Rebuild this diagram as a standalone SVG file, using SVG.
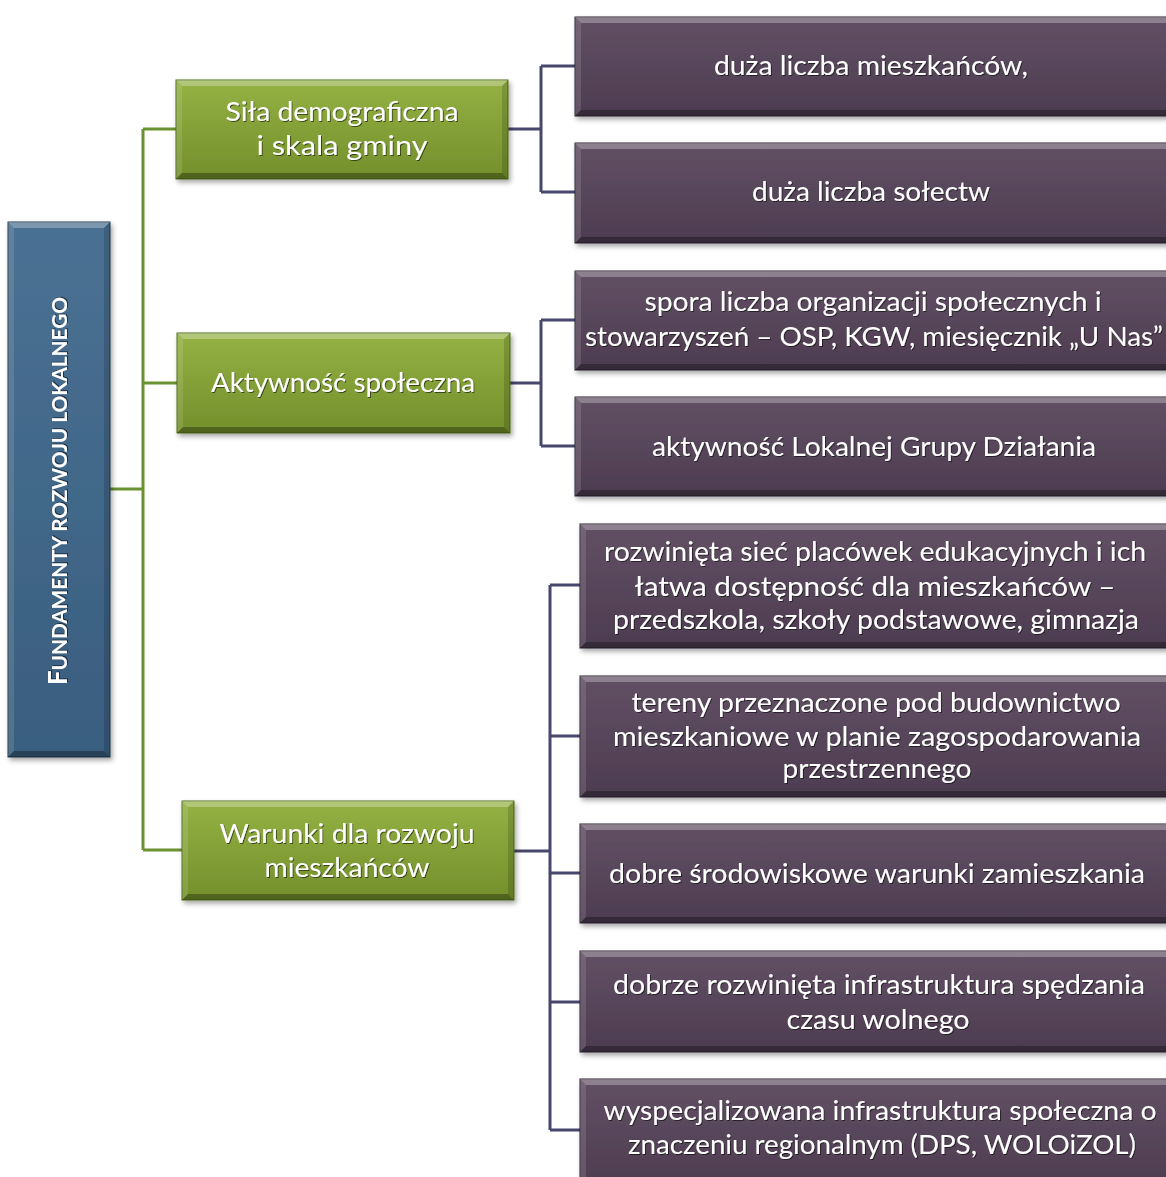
<svg xmlns="http://www.w3.org/2000/svg" width="1166" height="1177" viewBox="0 0 1166 1177">
<defs>
<linearGradient id="gBlue" x1="0" y1="0" x2="0" y2="1"><stop offset="0" stop-color="#4a7193"/><stop offset="1" stop-color="#395e7f"/></linearGradient>
<linearGradient id="gGreen" x1="0" y1="0" x2="0" y2="1"><stop offset="0" stop-color="#94b244"/><stop offset="1" stop-color="#738f2b"/></linearGradient>
<linearGradient id="gPurple" x1="0" y1="0" x2="0" y2="1"><stop offset="0" stop-color="#625065"/><stop offset="1" stop-color="#4d3c50"/></linearGradient>
<filter id="sh" x="-10%" y="-10%" width="130%" height="130%"><feDropShadow dx="2" dy="3" stdDeviation="2.5" flood-color="#000" flood-opacity="0.35"/></filter>
<filter id="tsh" x="-5%" y="-20%" width="110%" height="150%"><feDropShadow dx="1" dy="1" stdDeviation="0.7" flood-color="#000" flood-opacity="0.55"/></filter>
</defs>
<style>
.box{stroke:#2a2230;stroke-width:1;filter:url(#sh)}
.blue{fill:url(#gBlue);stroke:#22374a}
.green{fill:url(#gGreen);stroke:#4f6a1c}
.purple{fill:url(#gPurple);stroke:#2b2130}
.bt{fill:#fff;fill-opacity:.28}
.bl{fill:#fff;fill-opacity:.12}
.br{fill:#000;fill-opacity:.15}
.bb{fill:#000;fill-opacity:.3}
.t{font-family:Lato,"Open Sans","Liberation Sans",sans-serif;font-size:26.5px;fill:#fff;text-anchor:middle;filter:url(#tsh)}
.tv{font-family:Lato,"Liberation Sans",sans-serif;font-weight:bold;font-size:21px;fill:#fff;text-anchor:middle;filter:url(#tsh)}
.cg{fill:none;stroke:#6b9130;stroke-width:3}
.cp{fill:none;stroke:#48476d;stroke-width:3}
</style>
<rect width="1166" height="1177" fill="#fff"/>
<g id="connectors">
<path class="cg" d="M110,489H143M143,129V850M143,129H176M143,383H177M143,850H182"/>
<path class="cp" d="M508,129H541M541,66V192M541,66H575M541,192H575"/>
<path class="cp" d="M510,383H541M541,320V446M541,320H575M541,446H575"/>
<path class="cp" d="M514,851H550M550,585V1130M550,585H580M550,736H580M550,873H580M550,1002H580M550,1130H580"/>
</g>
<g id="root">
<rect class="box blue" x="8" y="222" width="102" height="535"/>
<polygon class="bt" points="8,222 110,222 104,228 14,228"/>
<polygon class="bl" points="8,222 14,228 14,751 8,757"/>
<polygon class="br" points="110,222 110,757 104,751 104,228"/>
<polygon class="bb" points="8,757 14,751 104,751 110,757"/>
<text class="tv" transform="translate(67,491) rotate(-90)" textLength="388" lengthAdjust="spacingAndGlyphs"><tspan font-size="26">F</tspan>UNDAMENTY ROZWOJU LOKALNEGO</text>
</g>
<g id="g1">
<rect class="box green" x="176" y="80" width="332" height="99"/>
<polygon class="bt" points="176,80 508,80 502,86 182,86"/>
<polygon class="bl" points="176,80 182,86 182,173 176,179"/>
<polygon class="br" points="508,80 508,179 502,173 502,86"/>
<polygon class="bb" points="176,179 182,173 502,173 508,179"/>
<text class="t" x="342" y="121" textLength="233" lengthAdjust="spacingAndGlyphs">Siła demograficzna</text>
<text class="t" x="342" y="155" textLength="171" lengthAdjust="spacingAndGlyphs">i skala gminy</text>
</g>
<g id="g2">
<rect class="box green" x="177" y="333" width="333" height="100"/>
<polygon class="bt" points="177,333 510,333 504,339 183,339"/>
<polygon class="bl" points="177,333 183,339 183,427 177,433"/>
<polygon class="br" points="510,333 510,433 504,427 504,339"/>
<polygon class="bb" points="177,433 183,427 504,427 510,433"/>
<text class="t" x="343" y="392" textLength="264" lengthAdjust="spacingAndGlyphs">Aktywność społeczna</text>
</g>
<g id="g3">
<rect class="box green" x="182" y="801" width="332" height="99"/>
<polygon class="bt" points="182,801 514,801 508,807 188,807"/>
<polygon class="bl" points="182,801 188,807 188,894 182,900"/>
<polygon class="br" points="514,801 514,900 508,894 508,807"/>
<polygon class="bb" points="182,900 188,894 508,894 514,900"/>
<text class="t" x="347" y="843" textLength="255" lengthAdjust="spacingAndGlyphs">Warunki dla rozwoju</text>
<text class="t" x="347" y="877" textLength="165" lengthAdjust="spacingAndGlyphs">mieszkańców</text>
</g>
<g id="p1">
<rect class="box purple" x="575" y="17" width="600" height="99"/>
<polygon class="bt" points="575,17 1175,17 1169,23 581,23"/>
<polygon class="bl" points="575,17 581,23 581,110 575,116"/>
<polygon class="bb" points="575,116 581,110 1169,110 1175,116"/>
<text class="t" x="871" y="75" textLength="314" lengthAdjust="spacingAndGlyphs">duża liczba mieszkańców,</text>
</g>
<g id="p2">
<rect class="box purple" x="575" y="143" width="600" height="100"/>
<polygon class="bt" points="575,143 1175,143 1169,149 581,149"/>
<polygon class="bl" points="575,143 581,149 581,237 575,243"/>
<polygon class="bb" points="575,243 581,237 1169,237 1175,243"/>
<text class="t" x="871" y="201" textLength="238" lengthAdjust="spacingAndGlyphs">duża liczba sołectw</text>
</g>
<g id="p3">
<rect class="box purple" x="575" y="271" width="600" height="99"/>
<polygon class="bt" points="575,271 1175,271 1169,277 581,277"/>
<polygon class="bl" points="575,271 581,277 581,364 575,370"/>
<polygon class="bb" points="575,370 581,364 1169,364 1175,370"/>
<text class="t" x="873" y="311" textLength="457" lengthAdjust="spacingAndGlyphs">spora liczba organizacji społecznych i</text>
<text class="t" x="874" y="346" textLength="578" lengthAdjust="spacingAndGlyphs">stowarzyszeń – OSP, KGW, miesięcznik „U Nas”</text>
</g>
<g id="p4">
<rect class="box purple" x="575" y="397" width="600" height="99"/>
<polygon class="bt" points="575,397 1175,397 1169,403 581,403"/>
<polygon class="bl" points="575,397 581,403 581,490 575,496"/>
<polygon class="bb" points="575,496 581,490 1169,490 1175,496"/>
<text class="t" x="874" y="456" textLength="444" lengthAdjust="spacingAndGlyphs">aktywność Lokalnej Grupy Działania</text>
</g>
<g id="p5">
<rect class="box purple" x="580" y="524" width="600" height="124"/>
<polygon class="bt" points="580,524 1180,524 1174,530 586,530"/>
<polygon class="bl" points="580,524 586,530 586,642 580,648"/>
<polygon class="bb" points="580,648 586,642 1174,642 1180,648"/>
<text class="t" x="875" y="561" textLength="542" lengthAdjust="spacingAndGlyphs">rozwinięta sieć placówek edukacyjnych i ich</text>
<text class="t" x="875" y="596" textLength="481" lengthAdjust="spacingAndGlyphs">łatwa dostępność dla mieszkańców –</text>
<text class="t" x="876" y="629" textLength="526" lengthAdjust="spacingAndGlyphs">przedszkola, szkoły podstawowe, gimnazja</text>
</g>
<g id="p6">
<rect class="box purple" x="580" y="676" width="600" height="121"/>
<polygon class="bt" points="580,676 1180,676 1174,682 586,682"/>
<polygon class="bl" points="580,676 586,682 586,791 580,797"/>
<polygon class="bb" points="580,797 586,791 1174,791 1180,797"/>
<text class="t" x="876" y="712" textLength="489" lengthAdjust="spacingAndGlyphs">tereny przeznaczone pod budownictwo</text>
<text class="t" x="877" y="746" textLength="528" lengthAdjust="spacingAndGlyphs">mieszkaniowe w planie zagospodarowania</text>
<text class="t" x="877" y="778" textLength="189" lengthAdjust="spacingAndGlyphs">przestrzennego</text>
</g>
<g id="p7">
<rect class="box purple" x="580" y="824" width="600" height="99"/>
<polygon class="bt" points="580,824 1180,824 1174,830 586,830"/>
<polygon class="bl" points="580,824 586,830 586,917 580,923"/>
<polygon class="bb" points="580,923 586,917 1174,917 1180,923"/>
<text class="t" x="877" y="883" textLength="536" lengthAdjust="spacingAndGlyphs">dobre środowiskowe warunki zamieszkania</text>
</g>
<g id="p8">
<rect class="box purple" x="580" y="951" width="600" height="101"/>
<polygon class="bt" points="580,951 1180,951 1174,957 586,957"/>
<polygon class="bl" points="580,951 586,957 586,1046 580,1052"/>
<polygon class="bb" points="580,1052 586,1046 1174,1046 1180,1052"/>
<text class="t" x="879" y="994" textLength="532" lengthAdjust="spacingAndGlyphs">dobrze rozwinięta infrastruktura spędzania</text>
<text class="t" x="878" y="1029" textLength="183" lengthAdjust="spacingAndGlyphs">czasu wolnego</text>
</g>
<g id="p9">
<rect class="box purple" x="580" y="1079" width="600" height="110"/>
<polygon class="bt" points="580,1079 1180,1079 1174,1085 586,1085"/>
<polygon class="bl" points="580,1079 586,1085 586,1189 580,1189"/>
<text class="t" x="880" y="1120" textLength="553" lengthAdjust="spacingAndGlyphs">wyspecjalizowana infrastruktura społeczna o</text>
<text class="t" x="882" y="1154" textLength="508" lengthAdjust="spacingAndGlyphs">znaczeniu regionalnym (DPS, WOLOiZOL)</text>
</g>
</svg>
